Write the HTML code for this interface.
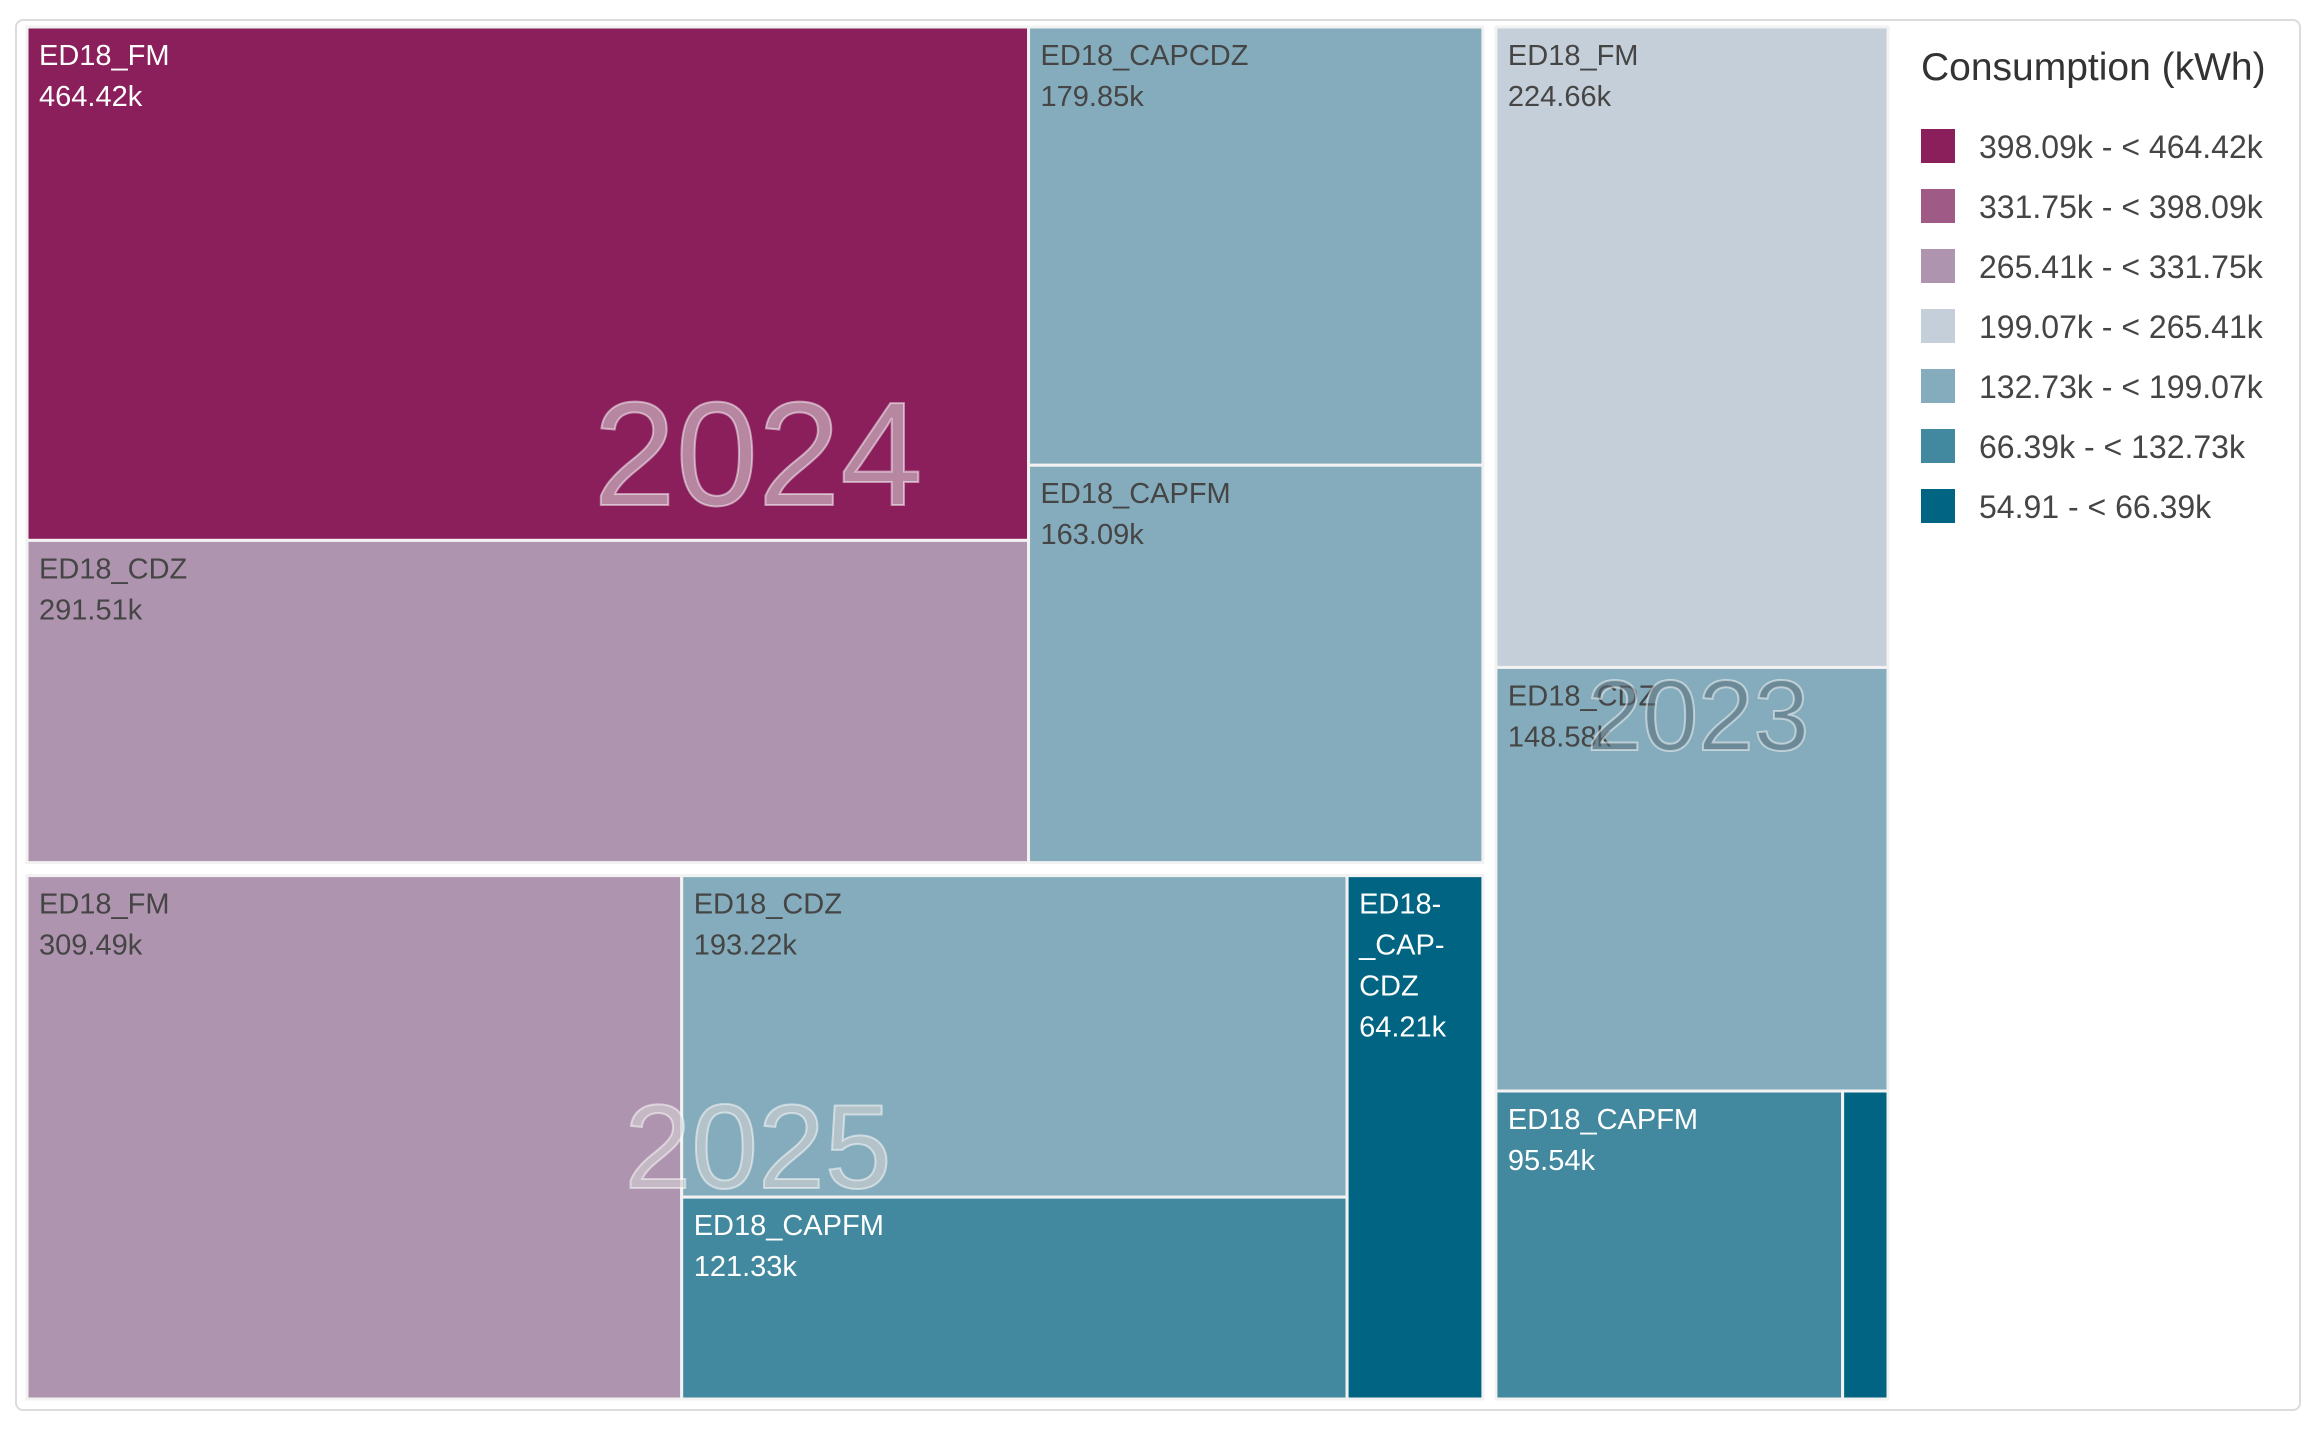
<!DOCTYPE html>
<html><head><meta charset="utf-8"><style>
html,body{margin:0;padding:0;background:#fff;width:2319px;height:1429px;overflow:hidden;font-family:"Liberation Sans",sans-serif}
#card{position:absolute;left:15px;top:19px;width:2286px;height:1392px;border:2px solid #dcdcdc;border-radius:8px;background:#fff;box-sizing:border-box}
svg{position:absolute;left:0;top:0}
</style></head><body>
<div id="card"></div>
<svg id="chart" width="2319" height="1429"></svg>
<script>
const years = ["2024","2025","2023"];
const names2024 = ["ED18_FM","ED18_CDZ","ED18_CAPCDZ","ED18_CAPFM"];
const values2024 = [464.42,291.51,179.85,163.09];
const names2025 = ["ED18_FM","ED18_CDZ","ED18_CAPFM","ED18-\n_CAP-\nCDZ"];
const values2025 = [309.49,193.22,121.33,64.21];
const names2023 = ["ED18_FM","ED18_CDZ","ED18_CAPFM","ED18_CAPCDZ"];
const values2023 = [224.66,148.58,95.54,12.5];
const legendBreaks = [464.42,398.09,331.75,265.41,199.07,132.73,66.39,54.91];
const legendLabels = ["398.09k - < 464.42k","331.75k - < 398.09k","265.41k - < 331.75k","199.07k - < 265.41k","132.73k - < 199.07k","66.39k - < 132.73k","54.91 - < 66.39k"];
const binColors = ["#8a1f5c","#a05a86","#ae94ae","#c5cfd9","#84acbc","#42889e","#006482"];
const darkText = [false,false,true,true,true,false,false];

const svg = document.getElementById('chart');
const NS = 'http://www.w3.org/2000/svg';
function mk(tag, attrs){const e=document.createElementNS(NS,tag);for(const k in attrs)e.setAttribute(k,attrs[k]);return e;}
function binOf(v){for(let i=0;i<7;i++){if(v>=legendBreaks[i+1])return i;}return 6;}
const sum=a=>a.reduce((s,v)=>s+v,0);
const fmt=v=>v>=1?v.toFixed(2)+'k':v.toFixed(2);

function drawTile(x,y,w,h,name,val,year){
  const b=binOf(val);
  const g=mk('g',{});
  
  
  g.appendChild(mk('rect',{x:x,y:y,width:Math.max(0,w),height:Math.max(0,h),fill:binColors[b],stroke:'#f2f2f2','stroke-width':3}));
  if(w>60&&h>60){
    const col=darkText[b]?'#454545':'#ffffff';
    const lines=name.split('\n').concat([fmt(val)]);
    lines.forEach((ln,i)=>{
      const t=mk('text',{x:x+12,y:y+38+i*41,fill:col,'font-size':29,'font-family':'"Liberation Sans",sans-serif'});
      t.textContent=ln;
      
      
      g.appendChild(t);
    });
  }
  svg.appendChild(g);
}
function yearLabel(cx,cy,txt,size,fill){
  const t=mk('text',{x:cx,y:cy,'text-anchor':'middle','font-size':size,'font-family':'"Liberation Sans",sans-serif',fill:fill,stroke:'rgba(255,255,255,0.5)','stroke-width':2});
  t.textContent=txt;
  
  
  svg.appendChild(t);
}
const X0=27,Y0=27,X1=1888,Y1=1399,G=13;
const t24=sum(values2024),t25=sum(values2025),t23=sum(values2023);
const W=X1-X0-G;
const wA=W*(t24+t25)/(t24+t25+t23);
const xB=X0+wA+G;
const H=Y1-Y0-G;
const h24=H*t24/(t24+t25);
const y25=Y0+h24+G;
(function(){
  const v=values2024,n=names2024,x=X0,y=Y0,w=wA,h=h24;
  const wl=w*(v[0]+v[1])/t24;
  const h0=h*v[0]/(v[0]+v[1]);
  drawTile(x,y,wl,h0,n[0],v[0],'2024');
  drawTile(x,y+h0,wl,h-h0,n[1],v[1],'2024');
  const h2=h*v[2]/(v[2]+v[3]);
  drawTile(x+wl,y,w-wl,h2,n[2],v[2],'2024');
  drawTile(x+wl,y+h2,w-wl,h-h2,n[3],v[3],'2024');
})();
(function(){
  const v=values2025,n=names2025,x=X0,y=y25,w=wA,h=Y1-y25;
  const w0=w*v[0]/t25;
  drawTile(x,y,w0,h,n[0],v[0],'2025');
  const w1=w*(v[1]+v[2])/t25;
  const h1=h*v[1]/(v[1]+v[2]);
  drawTile(x+w0,y,w1,h1,n[1],v[1],'2025');
  drawTile(x+w0,y+h1,w1,h-h1,n[2],v[2],'2025');
  drawTile(x+w0+w1,y,w-w0-w1,h,n[3],v[3],'2025');
})();
(function(){
  const v=values2023,n=names2023,x=xB,y=Y0,w=X1-xB,h=Y1-Y0;
  const h0=h*v[0]/t23, h1=h*v[1]/t23;
  drawTile(x,y,w,h0,n[0],v[0],'2023');
  drawTile(x,y+h0,w,h1,n[1],v[1],'2023');
  const w2=w*v[2]/(v[2]+v[3]);
  drawTile(x,y+h0+h1,w2,h-h0-h1,n[2],v[2],'2023');
  drawTile(x+w2,y+h0+h1,w-w2,h-h0-h1,n[3],v[3],'2023');
})();
yearLabel(758,505,'2024',148,'rgba(220,220,220,0.55)');
yearLabel(758,1188,'2025',120,'rgba(210,210,210,0.6)');
yearLabel(1698,750,'2023',100,'rgba(90,110,120,0.55)');
const lt=mk('text',{x:1921,y:80,'font-size':39,fill:'#333','font-family':'"Liberation Sans",sans-serif'});
lt.textContent='Consumption (kWh)';


svg.appendChild(lt);
legendLabels.forEach((lab,i)=>{
  const g=mk('g',{});
  
  
  g.appendChild(mk('rect',{x:1921,y:129+i*60,width:34,height:34,fill:binColors[i]}));
  const t=mk('text',{x:1979,y:158+i*60,'font-size':32,fill:'#454545','font-family':'"Liberation Sans",sans-serif'});
  t.textContent=lab;
  g.appendChild(t);
  svg.appendChild(g);
});
</script>
</body></html>
